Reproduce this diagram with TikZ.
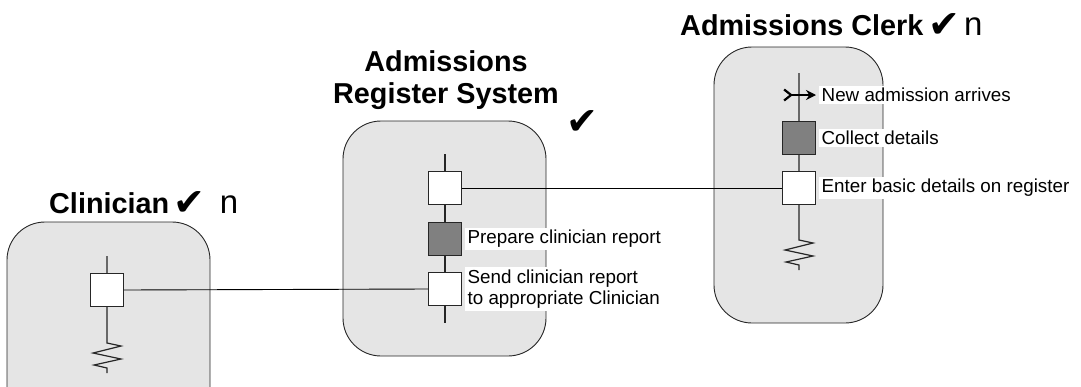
\documentclass[tikz,border=0pt]{standalone}
\usepackage{fontspec}
\setmainfont{Liberation Sans}
\newfontfamily\dingfont{DejaVu Sans}
\usetikzlibrary{arrows.meta}
\begin{document}
\begin{tikzpicture}[x=1pt,y=-1pt,
  lane/.style={draw=black!85, fill=black!10, line width=0.9pt, rounded corners=38pt},
  act/.style={draw=black!85, fill=white, minimum size=33pt, inner sep=0pt, line width=0.9pt},
  actdark/.style={act, fill=black!50},
  life/.style={line width=1.2pt, draw=black!85},
  link/.style={line width=0.9pt, draw=black},
  note/.style={fill=white, inner sep=2.5pt, font=\fontsize{18.8}{21.5}\selectfont, anchor=west, align=left},
  title/.style={font=\fontsize{28.8}{32}\selectfont\bfseries, inner sep=0pt},
  tick/.style={font=\dingfont\bfseries\fontsize{38}{38}\selectfont, inner sep=0pt},
  mark n/.style={font=\fontsize{33}{33}\selectfont, inner sep=0pt, anchor=base west},
]
\useasboundingbox (0,0) rectangle (1081,386);
\clip (0,0) rectangle (1081,386);

% swimlane frames
\path[lane] (7,222) rectangle (210,440);
\path[lane] (343,121) rectangle (546,356);
\path[lane] (714,47) rectangle (883,323);

% lifelines
\coordinate (clTop) at (107,256);
\coordinate (clZ) at (107,343);
\coordinate (arsTop) at (445,154);
\coordinate (arsBot) at (445,323);
\coordinate (ckTop) at (799,73);
\coordinate (ckZ) at (799,240);

\draw[life] (clTop) -- (clZ) -- ++(14,3) -- ++(-28,7) -- ++(28,6) -- ++(-27,6) -- ++(13,3) -- ++(0,5);
\draw[life] (arsTop) -- (arsBot);
\draw[life] (ckTop) -- (ckZ) -- ++(14,3) -- ++(-28,7) -- ++(28,6) -- ++(-27,6) -- ++(13,3) -- ++(0,5);

% activities
\node[act] (cl1) at (107,290) {};
\node[act] (ars1) at (445,188) {};
\node[actdark] (ars2) at (445,239) {};
\node[act] (ars3) at (445,289) {};
\node[actdark] (ck2) at (799,138) {};
\node[act] (ck3) at (799,188) {};

% trigger
\coordinate (arrS) at (783,95);
\coordinate (arrE) at (816,95);
\draw[{Straight Barb[reversed,length=7pt,width=11pt,line width=2.2pt]}-{Stealth[length=10pt,width=10pt]}, line width=1.8pt] (arrS) -- (arrE);

% interactions between lanes
\draw[link] (cl1.east) -- (ars3.west);
\draw[link] (ars1.east) -- (ck3.west);

% activity notes
\node[note] (n1) at ([xshift=3pt]arrE) {New admission arrives};
\node[note] (n2) at ([xshift=3pt]ck2.east) {Collect details};
\node[note] (n3) at ([xshift=3pt]ck3.east) {Enter basic details on register};
\node[note] (n4) at ([xshift=3pt]ars2.east) {Prepare clinician report};
\node[note] (n5) at ([xshift=3pt]ars3.east) {Send clinician report\\to appropriate Clinician};

% lane titles
\node[title, anchor=base west] (t1) at (49,213) {Clinician};
\node[tick, anchor=base west] (t1c) at ([xshift=4pt,yshift=-2pt]t1.base east) {✔};
\node[mark n] (t1n) at ([xshift=14pt,yshift=2pt]t1c.base east) {n};

\node[title, anchor=base, align=center] (t2) at (446,103) {Admissions\\Register System};
\node[tick, anchor=base] (t2c) at (582,134) {✔};

\node[title, anchor=base west] (t3) at (680,35) {Admissions Clerk};
\node[tick, anchor=base west] (t3c) at ([xshift=5pt,yshift=-2pt]t3.base east) {✔};
\node[mark n] (t3n) at ([xshift=3pt,yshift=2pt]t3c.base east) {n};
\end{tikzpicture}
\end{document}
